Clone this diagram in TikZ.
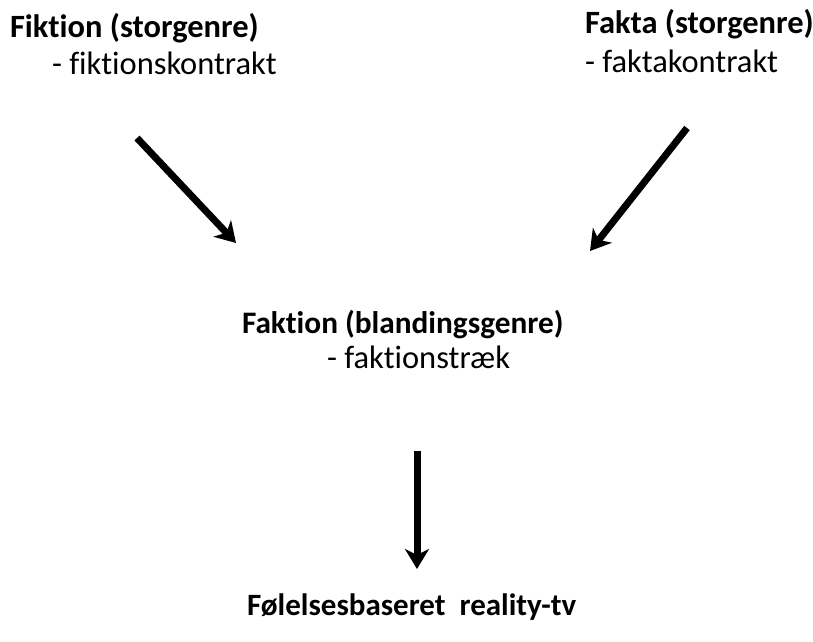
\documentclass[tikz,border=0pt]{standalone}
\usepackage{fontspec}
\setmainfont{Carlito}[Ligatures={NoCommon}]
\usetikzlibrary{arrows.meta}
\begin{document}
\begin{tikzpicture}[x=1pt,y=-1pt,
  lbl/.style={anchor=base west,inner sep=0pt,outer sep=0pt,font=\fontsize{32.5}{38}\selectfont},
  hd/.style={lbl,font=\fontsize{32.5}{38}\selectfont\bfseries},
  hdm/.style={lbl,font=\fontsize{31.3}{38}\selectfont\bfseries},
  hdb/.style={lbl,font=\fontsize{31}{38}\selectfont\bfseries},
  arr/.style={line width=7pt,-{Stealth[length=20pt,width=24pt,inset=6pt]}}]
\useasboundingbox (0,0) rectangle (813,641);
\node[hd]  (fik)  at (10,37)  {Fiktion (storgenre)};
\node[lbl] (fikk) at (52,74)  {- fiktionskontrakt};
\node[hd]  (fak)  at (585,33) {Fakta (storgenre)};
\node[lbl] (fakk) at (585,72) {- faktakontrakt};
\node[hdm] (fakt) at (242,333) {Faktion (blandingsgenre)};
\node[lbl] (faktk) at (327,368) {- faktionstræk};
\node[hdb] (fol)  at (247,615) {Følelsesbaseret\ \ reality-tv};
\coordinate (a1s) at (137,138);
\coordinate (a1e) at (236,243);
\coordinate (a2s) at (687,128);
\coordinate (a2e) at (590,251);
\coordinate (a3s) at (417,451);
\coordinate (a3e) at (417,569);
\draw[arr] (a1s) -- (a1e);
\draw[arr] (a2s) -- (a2e);
\draw[arr] (a3s) -- (a3e);
\end{tikzpicture}
\end{document}
